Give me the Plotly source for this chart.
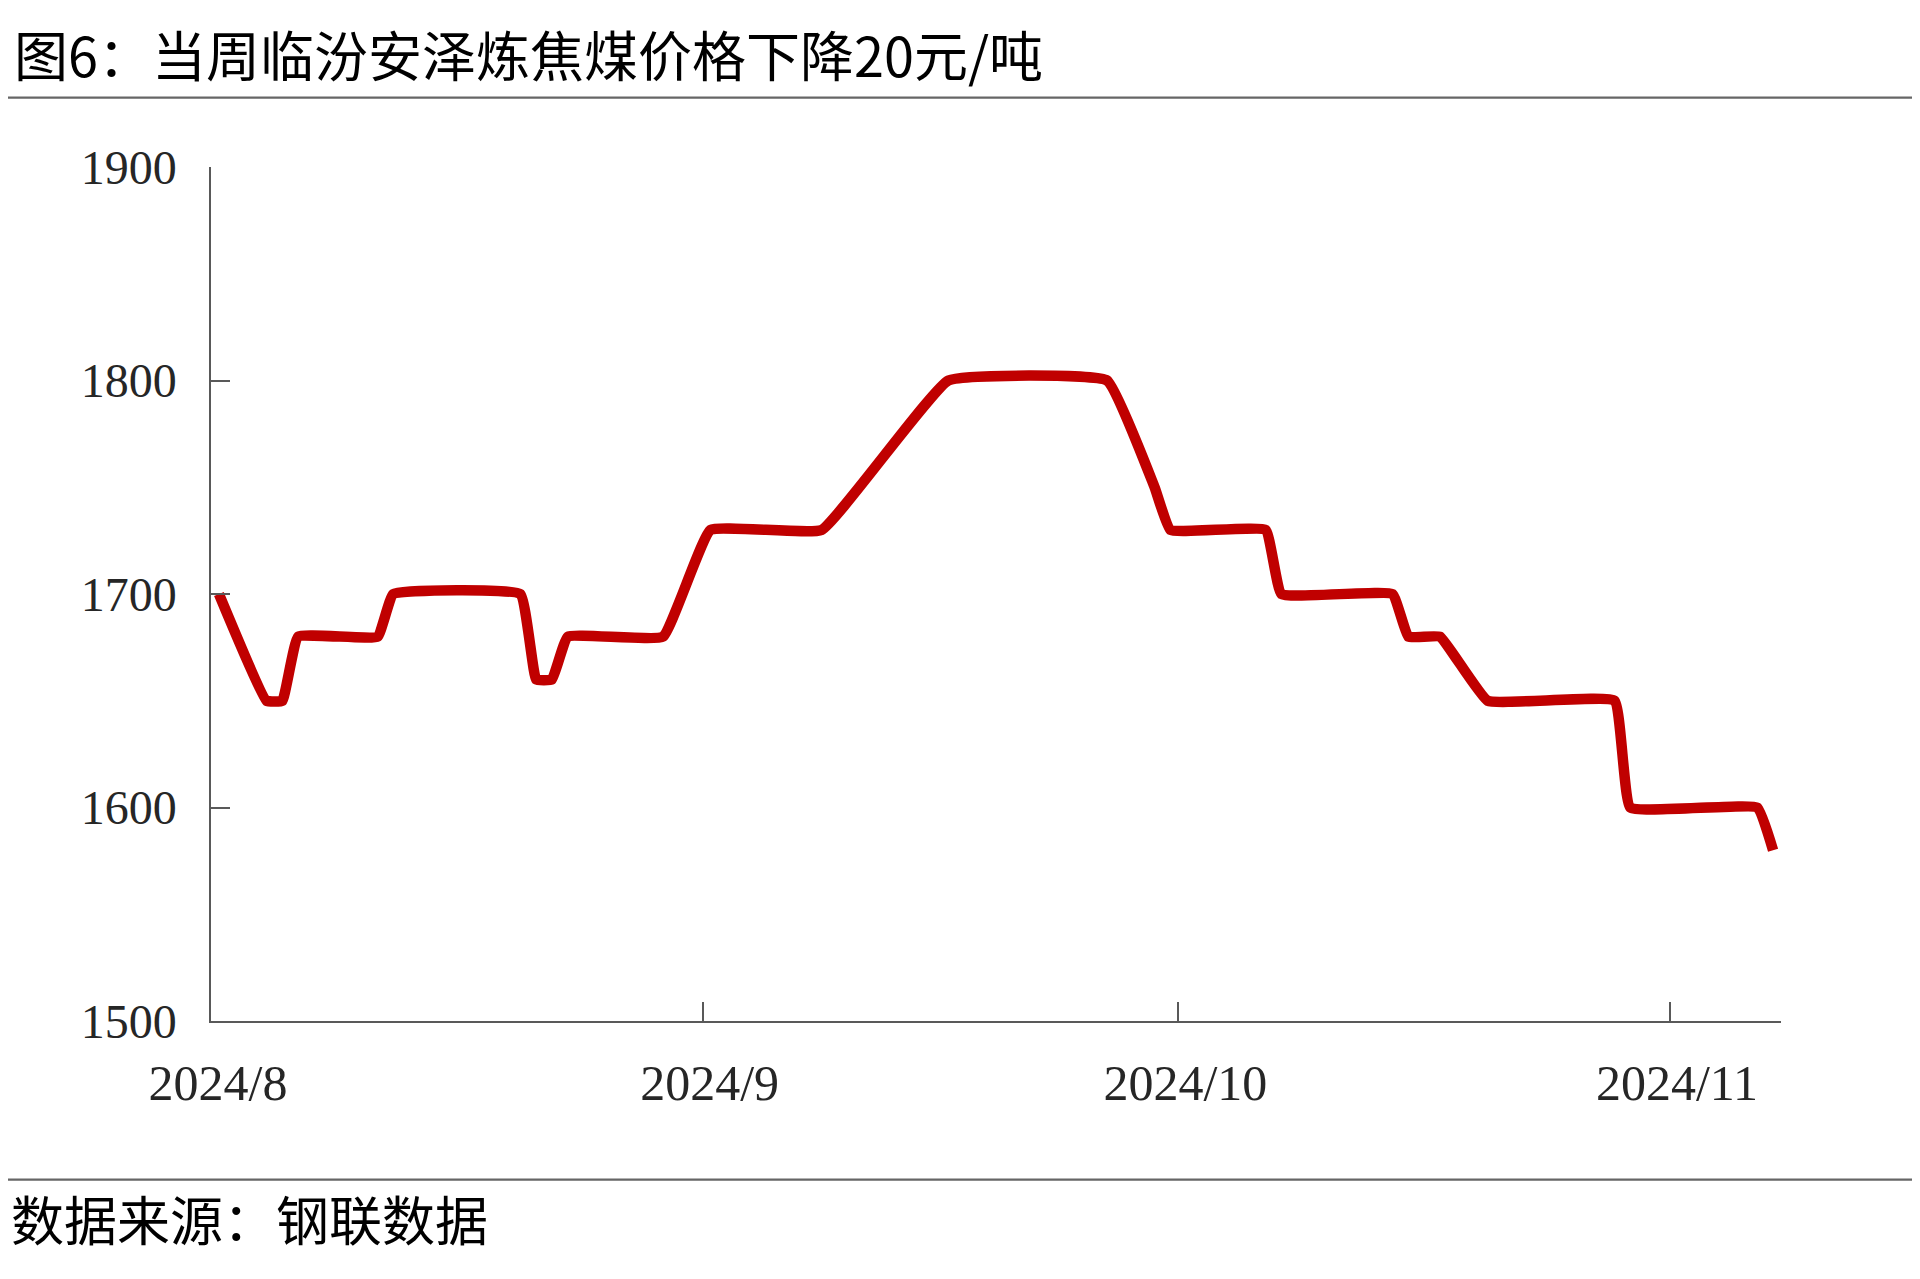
import plotly.graph_objects as go

# ---------------- data ----------------
dates = ["2024-08-01", "2024-08-04", "2024-08-05", "2024-08-06", "2024-08-11",
         "2024-08-12", "2024-08-20", "2024-08-21", "2024-08-22", "2024-08-23",
         "2024-08-29", "2024-09-01", "2024-09-08", "2024-09-16", "2024-09-26",
         "2024-09-29", "2024-09-30", "2024-10-06", "2024-10-07", "2024-10-14",
         "2024-10-15", "2024-10-17", "2024-10-20", "2024-10-28", "2024-10-29",
         "2024-11-06", "2024-11-07"]
prices = [1700, 1650, 1650, 1680, 1680,
          1700, 1700, 1660, 1660, 1680,
          1680, 1730, 1730, 1800, 1800,
          1750, 1730, 1730, 1700, 1700,
          1680, 1680, 1650, 1650, 1600,
          1600, 1580]

x_tick_vals = ["2024-07-31 12:00", "2024-08-31 12:00", "2024-09-30 12:00", "2024-10-31 12:00"]
x_tick_text = ["2024/8", "2024/9", "2024/10", "2024/11"]
y_tick_vals = [1500, 1600, 1700, 1800, 1900]

title_text = "图6：当周临汾安泽炼焦煤价格下降20元/吨"
source_text = "数据来源：钢联数据"

# ---------------- layout geometry (pixels) ----------------
OFF = 8  # page body margin of the html page
W, H = 1920 - OFF, 1279 - OFF
L, R = 210.5 - OFF, 1780.7 - OFF
T, B = 167.3 - OFF, 1021.3 - OFF
pw, ph = R - L, B - T


def px_x(px):
    return (px - OFF - L) / pw


def px_y(py):
    return (B - (py - OFF)) / ph


fig = go.Figure()
fig.add_trace(go.Scatter(
    x=dates, y=prices, mode="lines",
    line=dict(color="#C00000", width=10.5, shape="spline", smoothing=0.3),
    hoverinfo="skip", showlegend=False,
))

axis_color = "#595959"
fig.update_layout(
    width=W, height=H,
    margin=dict(l=L, r=W - R, t=T, b=H - B, pad=0),
    paper_bgcolor="white", plot_bgcolor="white",
    showlegend=False,
    xaxis=dict(
        type="date",
        range=["2024-07-31 12:00", "2024-11-07 12:00"],
        tickmode="array", tickvals=x_tick_vals, ticktext=x_tick_text,
        ticks="inside", ticklen=19, tickwidth=1.5, tickcolor=axis_color,
        showline=True, linecolor=axis_color, linewidth=1.5,
        showgrid=False, zeroline=False,
        tickfont=dict(family="Liberation Serif", size=50, color="#262626"),
        ticklabelshift=7, ticklabelstandoff=17,
    ),
    yaxis=dict(
        range=[1500, 1900],
        tickmode="array", tickvals=y_tick_vals,
        ticks="inside", ticklen=19, tickwidth=1.5, tickcolor=axis_color,
        showline=True, linecolor=axis_color, linewidth=1.5,
        showgrid=False, zeroline=False,
        tickfont=dict(family="Liberation Serif", size=48, color="#262626"),
        ticklabelstandoff=23,
    ),
    shapes=[
        dict(type="line", xref="paper", yref="paper",
             x0=px_x(0), x1=px_x(1920), y0=px_y(98), y1=px_y(98),
             line=dict(color="#666666", width=2.3)),
        dict(type="line", xref="paper", yref="paper",
             x0=px_x(0), x1=px_x(1920), y0=px_y(1180), y1=px_y(1180),
             line=dict(color="#666666", width=2.3)),
    ],
    annotations=[
        dict(text=title_text, xref="paper", yref="paper",
             x=px_x(11), y=px_y(54), xanchor="left", yanchor="middle",
             showarrow=False,
             font=dict(family="Noto Sans CJK SC", size=54, color="#000000")),
        dict(text=source_text, xref="paper", yref="paper",
             x=px_x(8), y=px_y(1218), xanchor="left", yanchor="middle",
             showarrow=False,
             font=dict(family="Noto Sans CJK SC", size=53, color="#000000")),
    ],
)

fig.write_html("out.html")
